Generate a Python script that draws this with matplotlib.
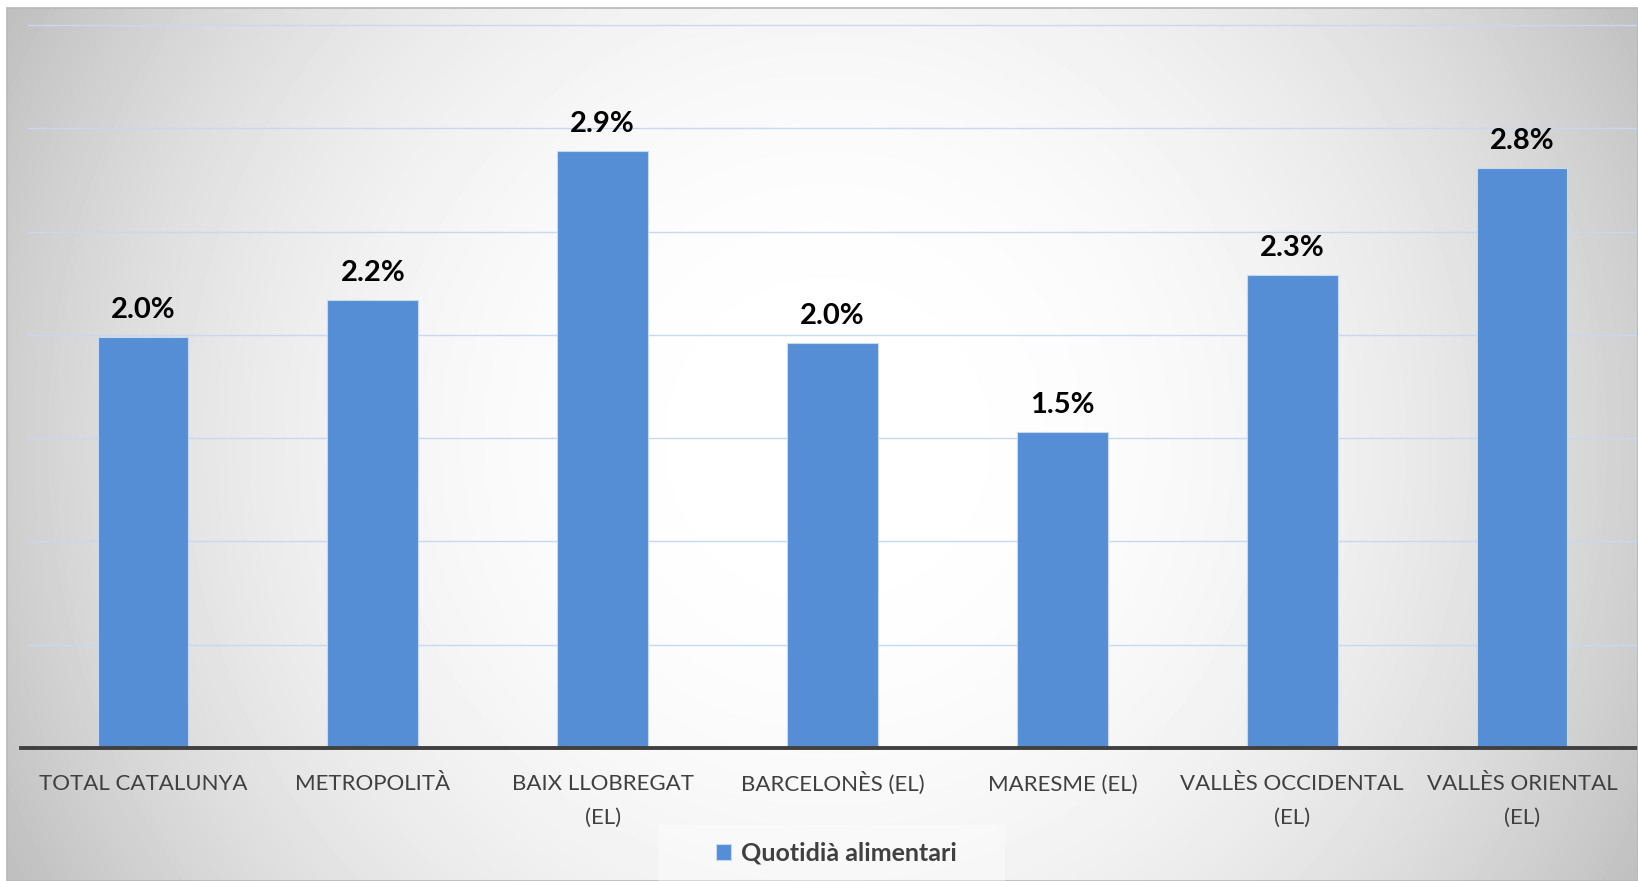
import numpy as np
import matplotlib.pyplot as plt
from matplotlib.patches import Rectangle

plt.rcParams['font.family'] = ['Lato', 'DejaVu Sans']

comarques = ['TOTAL CATALUNYA', 'METROPOLITÀ', 'BAIX LLOBREGAT\n(EL)', 'BARCELONÈS (EL)',
             'MARESME (EL)', 'VALLÈS OCCIDENTAL\n(EL)', 'VALLÈS ORIENTAL\n(EL)']
quotidia = [1.99, 2.17, 2.89, 1.96, 1.53, 2.29, 2.81]
serie = 'Quotidià alimentari'

W, H = 1638, 881
fig = plt.figure(figsize=(W / 100, H / 100), dpi=100)

# fons amb degradat radial (blanc al centre, gris a les vores)
bg = fig.add_axes([7 / W, 0, 1 - 7 / W, (H - 8) / H])
yy, xx = np.mgrid[0:873, 0:1631]
r = np.hypot(xx - 820, yy - 432)
val = 1 - 0.25 * np.clip(r / 920, 0, 1) ** 2.4
bg.imshow(val, cmap='gray', vmin=0, vmax=1, aspect='auto', interpolation='bilinear')
bg.set_axis_off()
fig.add_artist(Rectangle((7 / W, 0), 1 - 7 / W, (H - 8) / H, transform=fig.transFigure,
                         fill=False, edgecolor='#B8B8B8', lw=1.2))

ax = fig.add_axes([28 / W, 133 / H, 1609 / W, (748 - 21) / H])
ax.set_facecolor('none')
x = np.arange(len(comarques))
bars = ax.bar(x, quotidia, width=0.395, color='#558ED5', edgecolor='#C6D9F1', linewidth=0.8, zorder=3)

for b, v in zip(bars, quotidia):
    ax.annotate(f'{v:.1f}%', (b.get_x() + b.get_width() / 2, v), xytext=(0, 10),
                textcoords='offset points', ha='center', va='bottom',
                fontsize=21, fontweight='bold', color='black')

ax.set_xlim(-0.5, 6.5)
ax.set_ylim(0, 3.52)
ax.set_yticks(np.arange(0.5, 3.51, 0.5))
ax.yaxis.grid(True, color='#C6D9F1', lw=1.0, zorder=0)
ax.tick_params(axis='y', left=False, labelleft=False)
for s in ax.spines.values():
    s.set_visible(False)
ax.plot([-0.53, 6.5], [0, 0], color='#404040', lw=2.8, clip_on=False, zorder=4)

# etiquetes de categoria, línia a línia sota l'eix
ax.set_xticks([])
for xi, nom in zip(x, comarques):
    for i, linia in enumerate(nom.split('\n')):
        ax.annotate(linia, (xi, 0), xytext=(0, -30.5 - 23.8 * i), textcoords='offset points',
                    ha='center', va='baseline', fontsize=16, color='#404040',
                    annotation_clip=False)

# llegenda
fig.add_artist(Rectangle((658 / W, 0), 347 / W, 56 / H, transform=fig.transFigure,
                         facecolor='white', alpha=0.35, edgecolor='none'))
leg = fig.legend([bars], [serie], loc='center', bbox_to_anchor=(836 / W, 28 / H),
                 frameon=False, handlelength=0.6, handleheight=0.6, handletextpad=0.4,
                 prop={'size': 18, 'weight': 'bold'})
for t in leg.get_texts():
    t.set_color('#404040')

fig.savefig('out.png', dpi=100)
